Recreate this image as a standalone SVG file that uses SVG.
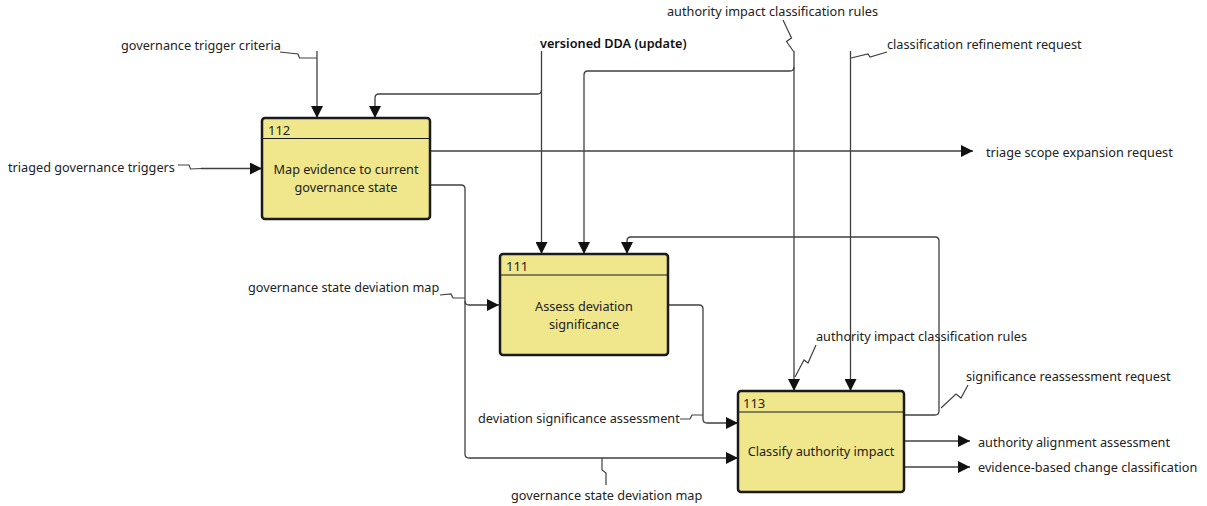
<svg xmlns="http://www.w3.org/2000/svg" width="1207" height="506" viewBox="0 0 1207 506">
  <style>
    .box { fill: #f0e68c; stroke: #1a1a1a; stroke-width: 2.5; }
    .hdr { stroke: #1a1a1a; stroke-width: 1.2; fill: none; }
    .num { font-family: "Noto Sans", "Open Sans", sans-serif; font-size: 13px; fill: #222; }
    .ttl { font-family: "Noto Sans", "Open Sans", sans-serif; font-size: 12.7px; fill: #222; text-anchor: middle; }
    .lbl { font-family: "Noto Sans", "Open Sans", sans-serif; font-size: 12.7px; fill: #222; }
    .bold { font-weight: 600; fill: #111; }
    .wire { fill: none; stroke: #404040; stroke-width: 1.3; }
    .lead { fill: none; stroke: #404040; stroke-width: 1.2; }
  </style>
  <defs>
    <marker id="arrow" markerWidth="12" markerHeight="12" refX="12" refY="6" orient="auto" markerUnits="userSpaceOnUse">
      <path d="M0,0 L12,6 L0,12 z" fill="#111"/>
    </marker>
  </defs>
  <rect width="1207" height="506" fill="#ffffff"/>

  <!-- connectors -->
  <g id="connectors">
    <!-- governance trigger criteria -> 112 -->
    <path class="wire" d="M317,51 V118" marker-end="url(#arrow)"/>
    <polyline class="lead" points="280,52 298,54 299.5,58 317,58"/>

    <!-- versioned DDA (update) -> 111 and 112 -->
    <path class="wire" d="M541.5,51 V254" marker-end="url(#arrow)"/>
    <path class="wire" d="M541.5,90 Q541.5,94 537.5,94 H379 Q375,94 375,98 V118" marker-end="url(#arrow)"/>

    <!-- authority impact classification rules -> 113 and 111 -->
    <path class="wire" d="M794,51 V391" marker-end="url(#arrow)"/>
    <path class="wire" d="M794,67 Q794,71 790,71 H588 Q584,71 584,75 V254" marker-end="url(#arrow)"/>
    <polyline class="lead" points="783,20 791.5,38 786.5,41.5 793.5,51.5"/>
    <polyline class="lead" points="816,345 808,363 804,360 795,377"/>

    <!-- classification refinement request -> 113 -->
    <path class="wire" d="M850.5,51 V391" marker-end="url(#arrow)"/>
    <polyline class="lead" points="851,58 868,54 870,57 887,52"/>

    <!-- triaged governance triggers -> 112 -->
    <path class="wire" d="M201,168.5 H262" marker-end="url(#arrow)"/>
    <polyline class="lead" points="178,165 189,165 190.5,169 202,168.5"/>

    <!-- 112 -> triage scope expansion request -->
    <path class="wire" d="M430,151 H973" marker-end="url(#arrow)"/>

    <!-- 112 -> governance state deviation map -> 111, 113 -->
    <path class="wire" d="M430,185 H461 Q465,185 465,189 V454 Q465,458 469,458 H738" marker-end="url(#arrow)"/>
    <path class="wire" d="M465,301 Q465,305 469,305 H499" marker-end="url(#arrow)"/>
    <polyline class="lead" points="440,295 451,294 453,298 465,298"/>
    <polyline class="lead" points="602,458 602,470 606,473 606,485"/>

    <!-- 111 -> deviation significance assessment -> 113 -->
    <path class="wire" d="M668,305 H699 Q703,305 703,309 V419 Q703,423 707,423 H738" marker-end="url(#arrow)"/>
    <polyline class="lead" points="680,419 690,419 692,415 703,415"/>

    <!-- 113 -> significance reassessment request -> 111 -->
    <path class="wire" d="M904,415 H935 Q939,415 939,411 V241 Q939,237 935,237 H631 Q627,237 627,241 V254" marker-end="url(#arrow)"/>
    <polyline class="lead" points="968,385 961,398 956,394 941,408"/>

    <!-- 113 outputs -->
    <path class="wire" d="M904,441 H970" marker-end="url(#arrow)"/>
    <path class="wire" d="M904,467 H970" marker-end="url(#arrow)"/>
  </g>

  <!-- connector labels -->
  <g id="labels">
    <text class="lbl" x="121" y="50">governance trigger criteria</text>
    <text class="lbl bold" x="540" y="48">versioned DDA (update)</text>
    <text class="lbl" x="667" y="16">authority impact classification rules</text>
    <text class="lbl" x="887" y="49">classification refinement request</text>
    <text class="lbl" x="8" y="172">triaged governance triggers</text>
    <text class="lbl" x="986" y="157">triage scope expansion request</text>
    <text class="lbl" x="248" y="292">governance state deviation map</text>
    <text class="lbl" x="816" y="341">authority impact classification rules</text>
    <text class="lbl" x="966" y="381">significance reassessment request</text>
    <text class="lbl" x="478" y="423">deviation significance assessment</text>
    <text class="lbl" x="978" y="447">authority alignment assessment</text>
    <text class="lbl" x="978" y="472">evidence-based change classification</text>
    <text class="lbl" x="511" y="500">governance state deviation map</text>
  </g>

  <!-- activity 112 -->
  <g id="node-112">
    <rect class="box" x="262" y="118" width="168" height="101" rx="3"/>
    <line class="hdr" x1="262" y1="138.5" x2="430" y2="138.5"/>
    <text class="num" x="268" y="135">112</text>
    <text class="ttl" x="346" y="174">Map evidence to current</text>
    <text class="ttl" x="346" y="192">governance state</text>
  </g>

  <!-- activity 111 -->
  <g id="node-111">
    <rect class="box" x="500" y="254" width="168" height="101" rx="3"/>
    <line class="hdr" x1="500" y1="275" x2="668" y2="275"/>
    <text class="num" x="506" y="271">111</text>
    <text class="ttl" x="584" y="311">Assess deviation</text>
    <text class="ttl" x="584" y="329">significance</text>
  </g>

  <!-- activity 113 -->
  <g id="node-113">
    <rect class="box" x="738" y="391" width="166" height="101" rx="3"/>
    <line class="hdr" x1="738" y1="412" x2="904" y2="412"/>
    <text class="num" x="743" y="408">113</text>
    <text class="ttl" x="821" y="456">Classify authority impact</text>
  </g>
</svg>
